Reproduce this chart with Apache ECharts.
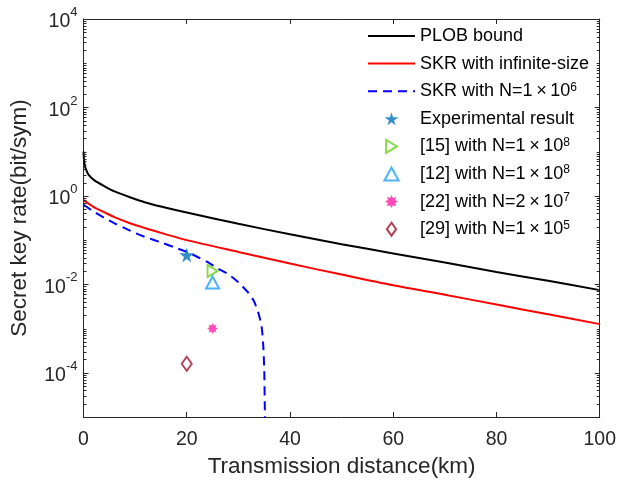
<!DOCTYPE html>
<html>
<head>
<meta charset="utf-8">
<script src="https://cdn.jsdelivr.net/npm/echarts@6/dist/echarts.min.js"></script>
<style>html,body{margin:0;padding:0;background:#fff}#c{width:619px;height:484px}</style>
</head>
<body>
<div id="c"></div>
<script>
// ---- data ----
var plobX = [0, 0.1, 0.3, 0.6, 1, 2, 4, 6, 9, 12, 16, 20, 30, 40, 50, 60, 70, 80, 90, 100];
var plobY = [10, 6.5, 4.6, 3.7, 3.0, 2.3, 1.66, 1.26, 0.93, 0.71, 0.54, 0.42, 0.234, 0.135, 0.081, 0.050, 0.031, 0.019, 0.012, 0.0074];

var infX = [0, 2, 4, 6, 9, 12, 16, 20, 30, 40, 50, 60, 70, 80, 90, 100];
var infY = [0.80, 0.56, 0.43, 0.33, 0.24, 0.186, 0.135, 0.100, 0.054, 0.0295, 0.0166, 0.0095, 0.0058, 0.0035, 0.0021, 0.00126];

var finX = [0, 2, 4, 6, 8, 10, 12, 15, 18, 20, 22, 24, 26, 28, 30, 31, 32, 33, 33.5, 34, 34.5, 34.8, 35, 35.1, 35.2];
var finY = [0.63, 0.44, 0.32, 0.24, 0.186, 0.145, 0.117, 0.089, 0.066, 0.054, 0.042, 0.032, 0.023, 0.017, 0.0112, 0.0085, 0.0063, 0.0042, 0.0030, 0.0020, 0.0011, 0.00045, 0.00013, 0.000025, 0.000004];

var expPoint = [20, 0.046];
var ref15Point = [25, 0.020];
var ref12Point = [25, 0.011];
var ref22Point = [25, 0.001];
var ref29Point = [20, 0.00016];

var seriesNames = ['PLOB bound', 'SKR with infinite-size', 'SKR with N=1\u2009\u00d7\u200910^6', 'Experimental result',
  '[15] with N=1\u2009\u00d7\u200910^8', '[12] with N=1\u2009\u00d7\u200910^8', '[22] with N=2\u2009\u00d7\u200910^7', '[29] with N=1\u2009\u00d7\u200910^5'];

var xTicks = [0, 20, 40, 60, 80, 100];
var yLabelExps = [-4, -2, 0, 2, 4];
var yMin = 1e-5, yMax = 1e4, xMin = 0, xMax = 100;

// ---- y tick positions (log axis: 2..9 minor ticks per decade) ----
var yTickData = [];
for (var e = -5; e <= 4; e++) {
  for (var m = 1; m <= 9; m++) {
    var v = m * Math.pow(10, e);
    if (v > yMax * 1.0001) break;
    if (e === -5 && m === 1) continue;
    var major = (m === 1 && yLabelExps.indexOf(e) >= 0) ? 1 : 0;
    yTickData.push([xMin, v, major]);
  }
}

var FONT = 'Liberation Sans, Arial, Helvetica, sans-serif';
var AX = '#262626';

function pairs(xs, ys) { var o = []; for (var i = 0; i < xs.length; i++) o.push([xs[i], ys[i]]); return o; }
function legendFmt(name) {
  var idx = name.indexOf('^');
  if (idx < 0) return '{n|' + name + '}';
  return '{n|' + name.slice(0, idx) + '}{s|' + name.slice(idx + 1) + '}';
}
var legendData = seriesNames.map(function (n, i) {
  return i < 3 ? {name: n, itemStyle: {opacity: 0, color: 'rgba(0,0,0,0)', borderWidth: 0}} : {name: n};
});

var chart = echarts.init(document.getElementById('c'), null, {renderer: 'canvas'});
var option = {
  animation: false,
  backgroundColor: '#fff',
  grid: {left: 83.5, right: 17, top: 19, bottom: 67, containLabel: false},
  legend: {
    orient: 'vertical', left: 362, top: 21, padding: 5,
    itemWidth: 47, itemHeight: 13, itemGap: 7.6,
    data: legendData, formatter: legendFmt,
    textStyle: {
      fontFamily: FONT, fontSize: 18, color: '#000', lineHeight: 20,
      rich: {
        n: {fontFamily: FONT, fontSize: 18, color: '#000', lineHeight: 20},
        s: {fontFamily: FONT, fontSize: 12, color: '#000', lineHeight: 10, verticalAlign: 'top'}
      }
    }
  },
  xAxis: [{
    type: 'value', min: xMin, max: xMax, interval: 20, position: 'bottom',
    name: 'Transmission distance(km)', nameLocation: 'middle', nameGap: 37,
    nameTextStyle: {fontFamily: FONT, fontSize: 22.5, color: AX},
    axisLine: {show: true, onZero: false, lineStyle: {color: AX, width: 1}},
    axisTick: {show: true, inside: true, length: 5, lineStyle: {color: AX, width: 1}},
    axisLabel: {fontFamily: FONT, fontSize: 19.5, color: AX, margin: 13},
    splitLine: {show: false}
  }, {
    type: 'value', min: xMin, max: xMax, interval: 20, position: 'top',
    axisLine: {show: true, onZero: false, lineStyle: {color: AX, width: 1}},
    axisTick: {show: true, inside: true, length: 5, lineStyle: {color: AX, width: 1}},
    axisLabel: {show: false}, splitLine: {show: false}
  }],
  yAxis: [{
    type: 'log', logBase: 10, min: yMin, max: yMax, position: 'left',
    name: 'Secret key rate(bit/sym)', nameLocation: 'middle', nameGap: 52,
    nameTextStyle: {fontFamily: FONT, fontSize: 22.5, color: AX},
    axisLine: {show: true, onZero: false, lineStyle: {color: AX, width: 1}},
    axisTick: {show: false},
    axisLabel: {
      margin: 6,
      formatter: function (v) {
        var ex = Math.round(Math.log10(v));
        if (yLabelExps.indexOf(ex) < 0) return '';
        return '{b|10}{s|' + ex + '}';
      },
      rich: {
        b: {fontFamily: FONT, fontSize: 19.5, color: AX, lineHeight: 26, verticalAlign: 'bottom'},
        s: {fontFamily: FONT, fontSize: 13, color: AX, lineHeight: 11, verticalAlign: 'top'}
      }
    },
    splitLine: {show: false}
  }, {
    type: 'log', logBase: 10, min: yMin, max: yMax, position: 'right',
    axisLine: {show: true, onZero: false, lineStyle: {color: AX, width: 1}},
    axisTick: {show: false}, axisLabel: {show: false}, splitLine: {show: false}
  }],
  series: [
    {name: 'yticks', type: 'custom', coordinateSystem: 'cartesian2d',
      data: yTickData, encode: {x: 0, y: 1}, silent: true, z: 6, clip: false,
      renderItem: function (params, api) {
        var v = api.value(1), major = api.value(2);
        var pl = api.coord([xMin, v]), pr = api.coord([xMax, v]);
        var len = major ? 5 : 3;
        var y = Math.round(pl[1]) + 0.5;
        return {type: 'group', children: [
          {type: 'line', shape: {x1: pl[0], y1: y, x2: pl[0] + len, y2: y}, style: {stroke: AX, lineWidth: 1}},
          {type: 'line', shape: {x1: pr[0] - len, y1: y, x2: pr[0], y2: y}, style: {stroke: AX, lineWidth: 1}}
        ]};
      }},
    {name: seriesNames[0], type: 'line', data: pairs(plobX, plobY), symbol: 'none', smooth: 0.3,
      lineStyle: {color: '#000', width: 2}, itemStyle: {color: '#000'}, z: 3},
    {name: seriesNames[1], type: 'line', data: pairs(infX, infY), symbol: 'none', smooth: 0.3,
      lineStyle: {color: '#ff0000', width: 2}, itemStyle: {color: '#ff0000'}, z: 3},
    {name: seriesNames[2], type: 'line', data: pairs(finX, finY), symbol: 'none', smooth: 0.3,
      lineStyle: {color: '#0000ff', width: 2, type: [9, 6]}, itemStyle: {color: '#0000ff'}, z: 3},
    {name: seriesNames[3], type: 'scatter', data: [expPoint], symbol: 'path://M50,0 L61,35 L98,35 L68,57 L79,91 L50,70 L21,91 L32,57 L2,35 L39,35 Z',
      symbolSize: 15, itemStyle: {color: '#0072BD'}, z: 5},
    {name: seriesNames[4], type: 'scatter', data: [ref15Point], symbol: 'path://M0,0 L10,6 L0,12 Z',
      symbolSize: [10, 12], itemStyle: {color: 'rgba(255,255,255,0)', borderColor: '#6ccf1c', borderWidth: 2}, z: 5},
    {name: seriesNames[5], type: 'scatter', data: [ref12Point], symbol: 'path://M6,0 L12,11 L0,11 Z',
      symbolSize: [13, 12], itemStyle: {color: 'rgba(255,255,255,0)', borderColor: '#1fa0f5', borderWidth: 2}, z: 5},
    {name: seriesNames[6], type: 'scatter', data: [ref22Point],
      symbol: 'path://M20,10 L15.54,12.3 L17.07,17.07 L12.3,15.54 L10,20 L7.7,15.54 L2.93,17.07 L4.46,12.3 L0,10 L4.46,7.7 L2.93,2.93 L7.7,4.46 L10,0 L12.3,4.46 L17.07,2.93 L15.54,7.7 Z',
      symbolSize: 11, itemStyle: {color: '#ff1fa8'}, z: 5},
    {name: seriesNames[7], type: 'scatter', data: [ref29Point], symbol: 'path://M5,0 L10,7 L5,14 L0,7 Z',
      symbolSize: [10, 14], itemStyle: {color: 'rgba(255,255,255,0)', borderColor: '#a2142f', borderWidth: 2}, z: 5}
  ]
};
chart.setOption(option);
</script>
</body>
</html>
